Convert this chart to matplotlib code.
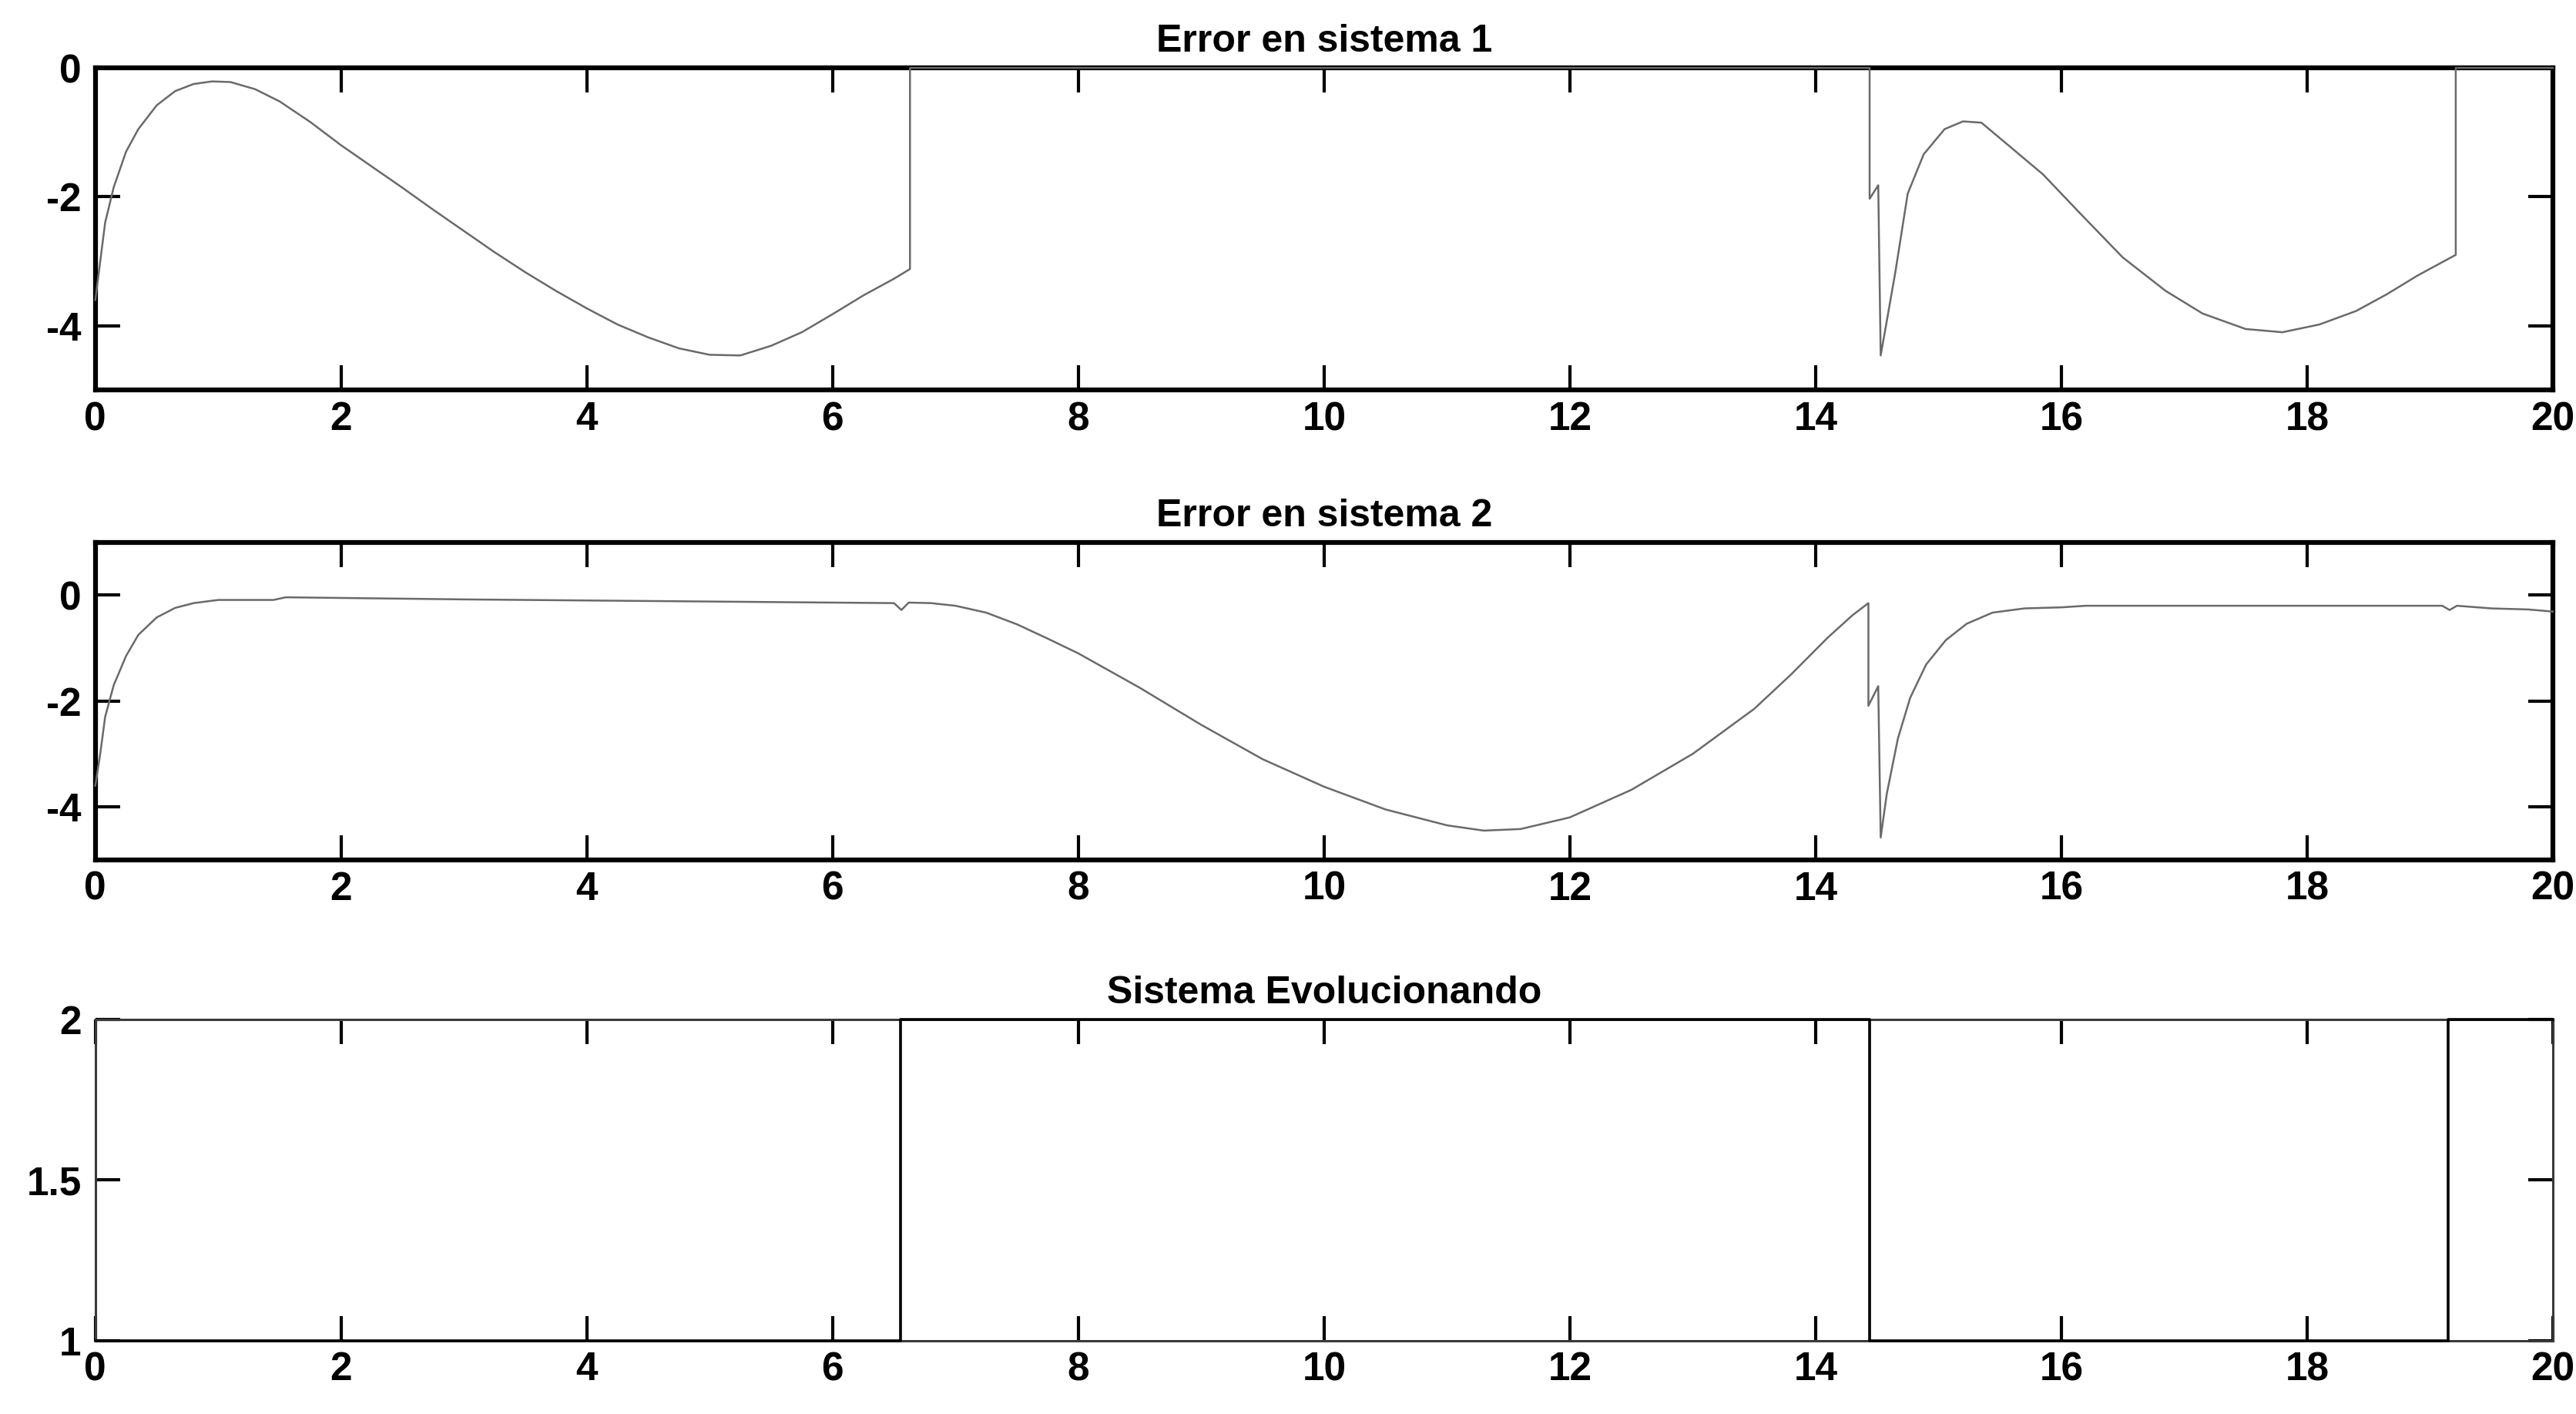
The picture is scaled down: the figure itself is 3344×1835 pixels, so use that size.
import matplotlib
matplotlib.use("Agg")
import matplotlib.pyplot as plt

# ---------------- data ----------------
titles = ["Error en sistema 1", "Error en sistema 2", "Sistema Evolucionando"]

t_e1 = [0, 0.04, 0.08, 0.15, 0.25, 0.35, 0.5, 0.65, 0.8, 0.95, 1.1, 1.3, 1.5,
        1.75, 2.0, 2.25, 2.5, 2.75, 3.0, 3.25, 3.5, 3.75, 4.0, 4.25, 4.5, 4.75,
        5.0, 5.25, 5.5, 5.75, 6.0, 6.25, 6.5, 6.63, 6.63,
        14.44, 14.44, 14.51, 14.53, 14.57, 14.65, 14.75, 14.88, 15.05, 15.2,
        15.35, 15.55, 15.85, 16.15, 16.5, 16.85, 17.15, 17.5, 17.8, 18.1,
        18.4, 18.65, 18.9, 19.21, 19.21, 20]
e1 = [-3.6, -3.0, -2.4, -1.85, -1.3, -0.95, -0.58, -0.36, -0.25, -0.21, -0.22,
      -0.33, -0.52, -0.84, -1.2, -1.53, -1.86, -2.2, -2.53, -2.86, -3.17, -3.46,
      -3.73, -3.98, -4.18, -4.35, -4.45, -4.46, -4.31, -4.1, -3.82, -3.53,
      -3.27, -3.12, 0,
      0, -2.03, -1.82, -4.46, -4.03, -3.16, -1.95, -1.34, -0.95, -0.83,
      -0.85, -1.17, -1.65, -2.25, -2.94, -3.46, -3.81, -4.05, -4.1, -3.98,
      -3.77, -3.51, -3.22, -2.9, 0, 0]

t_e2 = [0, 0.04, 0.08, 0.15, 0.25, 0.35, 0.5, 0.65, 0.8, 1.0, 1.45, 1.55, 3.0,
        5.0, 6.5, 6.56, 6.62, 6.8, 7.0, 7.25, 7.5, 7.75, 8.0, 8.5, 9.0, 9.5,
        10.0, 10.5, 11.0, 11.3, 11.6, 12.0, 12.5, 13.0, 13.5, 13.8, 14.1,
        14.3, 14.43, 14.43, 14.51, 14.53, 14.58, 14.67, 14.77, 14.9, 15.06,
        15.23, 15.44, 15.7, 16.0, 16.2, 17.0, 18.0, 19.1, 19.16, 19.22, 19.5,
        19.8, 20.0]
e2 = [-3.6, -3.0, -2.3, -1.7, -1.15, -0.75, -0.42, -0.24, -0.15, -0.09, -0.09,
      -0.04, -0.08, -0.12, -0.15, -0.28, -0.14, -0.15, -0.2, -0.33, -0.55,
      -0.82, -1.1, -1.75, -2.45, -3.1, -3.62, -4.05, -4.35, -4.45, -4.42,
      -4.2, -3.68, -3.0, -2.15, -1.5, -0.8, -0.38, -0.15, -2.09, -1.72,
      -4.58, -3.75, -2.71, -1.94, -1.31, -0.85, -0.54, -0.33, -0.25, -0.23,
      -0.2, -0.2, -0.2, -0.2, -0.28, -0.2, -0.25, -0.27, -0.31]

t_sw = [0, 6.55, 6.55, 14.44, 14.44, 19.15, 19.15, 20]
sw = [1, 1, 2, 2, 1, 1, 2, 2]

x_ticks = [0, 2, 4, 6, 8, 10, 12, 14, 16, 18, 20]
y_ticks_1 = [-4, -2, 0]
y_ticks_2 = [-4, -2, 0]
y_ticks_3 = [1, 1.5, 2]
y_ticklabels_3 = ["1", "1.5", "2"]

# ---------------- style ----------------
plt.rcParams['font.family'] = ['Liberation Sans', 'DejaVu Sans']
plt.rcParams['font.weight'] = 'bold'
plt.rcParams['axes.unicode_minus'] = False

fig = plt.figure(figsize=(33.44, 18.35), dpi=100)
fig.patch.set_facecolor('white')

left, width = 0.037, 0.954
rects = [
    [left, 0.724, width, 0.228],
    [left, 0.392, width, 0.2245],
    [left, 0.052, width, 0.227],
]

series = [(t_e1, e1), (t_e2, e2), (t_sw, sw)]
ylims = [(-5, 0), (-5, 1), (1, 2)]
yticks = [y_ticks_1, y_ticks_2, y_ticks_3]
spine_w = [4.5, 4.5, 2.2]
spine_c = ['black', 'black', '#3a3a3a']
line_col = ['#6a6a6a', '#6a6a6a', 'black']
line_w = [1.8, 1.8, 2.6]

for i, r in enumerate(rects):
    ax = fig.add_axes(r)
    tx, vy = series[i]
    ax.plot(tx, vy, color=line_col[i], lw=line_w[i], clip_on=False, zorder=3)
    ax.set_xlim(0, 20)
    ax.set_ylim(*ylims[i])
    ax.set_xticks(x_ticks)
    ax.set_xticklabels([str(v) for v in x_ticks])
    ax.set_yticks(yticks[i])
    if i == 2:
        ax.set_yticklabels(y_ticklabels_3)
    else:
        ax.set_yticklabels([str(v) for v in yticks[i]])
    for s in ax.spines.values():
        s.set_linewidth(spine_w[i])
        s.set_color(spine_c[i])
    ax.tick_params(direction='in', top=True, right=True, length=23,
                   width=3.0, labelsize=37, colors='black')
    ax.tick_params(axis='x', pad=10)
    ax.tick_params(axis='y', pad=13)
    ax.set_title(titles[i], fontsize=36, fontweight='bold', pad=15)

fig.savefig("out.png", dpi=100, facecolor='white')
